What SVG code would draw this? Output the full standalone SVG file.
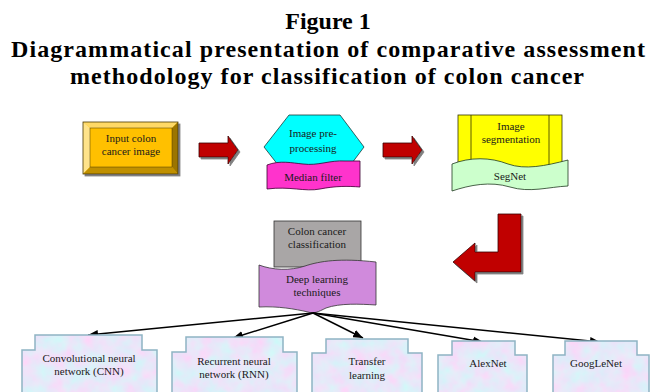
<svg xmlns="http://www.w3.org/2000/svg" width="654" height="392" viewBox="0 0 654 392">
<style>
.title{font-family:"Liberation Serif","Times New Roman",serif;font-weight:bold;font-size:24px;fill:#000;text-anchor:middle}
.lbl{font-family:"Liberation Serif","Times New Roman",serif;font-size:11px;fill:#1a1a1a;text-anchor:middle}
.red{fill:#C00000;stroke:#3a0000;stroke-width:0.8;filter:url(#shadow)}
.edge{stroke:#000;stroke-width:1.5;fill:none;marker-end:url(#ah)}
.tex{filter:url(#tex)}
.outl{fill:none;stroke:#8FB4C4;stroke-width:1.5}
</style>
<defs>
<marker id="ah" viewBox="0 0 10 8" refX="10" refY="4" markerWidth="10" markerHeight="8" markerUnits="userSpaceOnUse" orient="auto">
<path d="M0,0 L10,4 L0,8 Z" fill="#000"/>
</marker>
<filter id="shadow" x="-20%" y="-20%" width="150%" height="150%">
<feOffset in="SourceAlpha" dx="1.5" dy="1.5" result="o"/>
<feFlood flood-color="#808080"/>
<feComposite in2="o" operator="in" result="s"/>
<feMerge><feMergeNode in="s"/><feMergeNode in="SourceGraphic"/></feMerge>
</filter>
<filter id="tex" x="0" y="0" width="1" height="1">
<feTurbulence type="fractalNoise" baseFrequency="0.06" numOctaves="3" seed="7" result="n"/>
<feColorMatrix in="n" type="matrix" values="0.5 0 0 0 0.55  -0.35 0.1 0 0 0.93  0 0 0 0 0.95  0 0 0 0 1" result="c"/>
<feComposite in="c" in2="SourceGraphic" operator="in"/>
</filter>
</defs>

<g id="title">
<text class="title" x="328" y="29">Figure 1</text>
<text class="title" x="328" y="57" textLength="634" lengthAdjust="spacing">Diagrammatical presentation of comparative assessment</text>
<text class="title" x="327" y="84" textLength="514" lengthAdjust="spacing">methodology for classification of colon cancer</text>
</g>

<g id="input">
<g filter="url(#shadow)">
<rect x="83" y="122" width="95" height="52" fill="#FFC000"/>
<polygon points="83,122 178,122 172,128 90,128" fill="#FFD966"/>
<polygon points="83,122 90,128 90,167 83,174" fill="#FFE38A"/>
<polygon points="83,174 178,174 172,167 90,167" fill="#C09000"/>
<polygon points="178,122 178,174 172,167 172,128" fill="#9C7400"/>
<rect x="83" y="122" width="95" height="52" fill="none" stroke="#4a3a00" stroke-width="0.8"/>
<rect x="90" y="128" width="82" height="39" fill="none" stroke="#4a3a00" stroke-width="0.5"/>
</g>
<text class="lbl" x="131" y="142">Input colon</text>
<text class="lbl" x="131" y="155">cancer image</text>
</g>

<g id="arrows-red">
<polygon class="red" points="199,143 228,143 228,136 238,150 228,164 228,157 199,157"/>
<polygon class="red" points="383,143 412,143 412,136 422,150 412,164 412,157 383,157"/>
<polygon class="red" points="498,214 521,214 521,272 475,272 475,281 453,262 475,243 475,252 498,252"/>
</g>

<g id="preprocessing">
<polygon points="289,115 340,115 364,147 340,179 289,179 264,147" fill="#00FFFF" stroke="#1a3a3a" stroke-width="0.8"/>
<text class="lbl" x="313" y="137">Image pre-</text>
<text class="lbl" x="313" y="152">processing</text>
</g>
<g id="median">
<path d="M267,165 C280,160 292,163 303,164 C318,166 330,160 345,161 L360,161 L360,187 C348,186 335,186 320,189 C305,192 290,186 267,189 Z" fill="#FF33CC" stroke="#3a0030" stroke-width="0.8"/>
<text class="lbl" x="313" y="181">Median filter</text>
</g>

<g id="segmentation">
<rect x="458" y="115" width="104" height="55" fill="#FFFF00" stroke="#333300" stroke-width="0.8"/>
<line x1="471" y1="115" x2="471" y2="170" stroke="#333300" stroke-width="0.8"/>
<line x1="549" y1="115" x2="549" y2="170" stroke="#333300" stroke-width="0.8"/>
<text class="lbl" x="511" y="130">Image</text>
<text class="lbl" x="511" y="143">segmentation</text>
</g>
<g id="segnet">
<path d="M452,164 C470,157 490,157 508,164 C525,170 545,166 568,160 L568,186 C548,187 530,193 510,187 C490,181 470,185 452,191 Z" fill="#CCFFCC" stroke="#203a20" stroke-width="0.8"/>
<text class="lbl" x="510" y="180">SegNet</text>
</g>

<g id="classification">
<rect x="274" y="221" width="87" height="46" fill="#A9A6A6" stroke="#333" stroke-width="0.8"/>
<text class="lbl" x="317" y="235">Colon cancer</text>
<text class="lbl" x="317" y="248">classification</text>
</g>
<g id="deeplearning">
<path d="M259,265 C272,270 290,271 305,266 C320,261 340,258 376,262 L376,305 C360,304 340,303 326,308 C318,312 314,314 308,312 C295,309 278,306 259,307 Z" fill="#D08ADC" stroke="#333" stroke-width="0.8"/>
<text class="lbl" x="317" y="283">Deep learning</text>
<text class="lbl" x="317" y="296">techniques</text>
</g>

<g id="connectors">
<line class="edge" x1="313" y1="313" x2="88" y2="335"/>
<line class="edge" x1="313" y1="313" x2="233" y2="338"/>
<line class="edge" x1="313" y1="313" x2="363" y2="338"/>
<line class="edge" x1="313" y1="313" x2="483" y2="342"/>
<line class="edge" x1="313" y1="313" x2="600" y2="342"/>
</g>

<g id="cnn">
<path class="tex" d="M35,335 H142 V350 H157 V400 H22 V350 H35 Z" fill="#000"/>
<path d="M35,335 H142 V350 H157 V400 H22 V350 H35 Z" class="outl" stroke="#F4B183"/>
<text class="lbl" x="89" y="362">Convolutional neural</text>
<text class="lbl" x="89" y="375">network (CNN)</text>
</g>
<g id="rnn">
<path class="tex" d="M186,337 H283 V352 H297 V400 H172 V352 H186 Z" fill="#000"/>
<path class="outl" d="M186,337 H283 V352 H297 V400 H172 V352 H186 Z"/>
<text class="lbl" x="234" y="365">Recurrent neural</text>
<text class="lbl" x="234" y="378">network (RNN)</text>
</g>
<g id="transfer">
<path class="tex" d="M326,339 H408 V353 H422 V400 H312 V353 H326 Z" fill="#000"/>
<path class="outl" d="M326,339 H408 V353 H422 V400 H312 V353 H326 Z"/>
<text class="lbl" x="367" y="365">Transfer</text>
<text class="lbl" x="367" y="379">learning</text>
</g>
<g id="alexnet">
<path class="tex" d="M452,341 H515 V355 H527 V400 H438 V355 H452 Z" fill="#000"/>
<path class="outl" d="M452,341 H515 V355 H527 V400 H438 V355 H452 Z"/>
<text class="lbl" x="488" y="367">AlexNet</text>
</g>
<g id="googlenet">
<path class="tex" d="M565,341 H637 V355 H649 V400 H553 V355 H565 Z" fill="#000"/>
<path class="outl" d="M565,341 H637 V355 H649 V400 H553 V355 H565 Z"/>
<text class="lbl" x="596" y="367">GoogLeNet</text>
</g>
</svg>
